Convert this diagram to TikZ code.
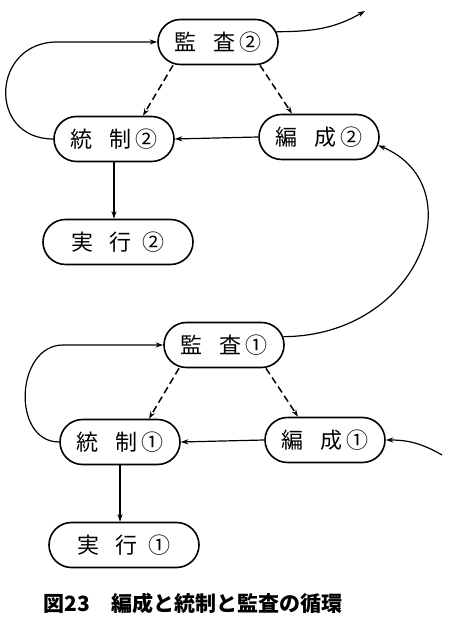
\documentclass[tikz,border=0pt]{standalone}
\usepackage{fontspec}
\setmainfont{Noto Sans CJK JP}
\usetikzlibrary{arrows.meta,shapes.misc}

\begin{document}
\begin{tikzpicture}[x=1pt,y=1pt,
    stage/.style={draw,line width=1.6pt,rounded rectangle,inner sep=0pt,
      minimum width=120pt,minimum height=45pt,font=\fontsize{22}{24}\selectfont},
    flow/.style={line width=1.2pt,-{Stealth[length=7.5pt,width=5pt]}},
    check/.style={flow,line width=1.5pt,dash pattern=on 7pt off 4pt}]
  \useasboundingbox (0,0) rectangle (465,636);
  \def\gap{\hspace{0.75em}}

  % two rounds of the cycle, the first one below
  \foreach \c/\dx/\dy/\m/\lx in {2/0/0/②/66,1/6/-303/①/48} {
    \begin{scope}[shift={(\dx,\dy)}]
      \node[stage] (kn\c) at (218,594) {監\gap 査\,\m};
      \node[stage] (tk\c) at (114,497) {統\gap 制\,\m};
      \node[stage] (hs\c) at (319,499) {編\gap 成\,\m};
      \node[stage,minimum width=150pt] (jk\c) at (118,394) {実\gap 行\hspace{0.5em}\m};
    \end{scope}
    \draw[check] ([xshift=-45pt]kn\c.south) -- ([xshift=29pt]tk\c.north);
    \draw[check] ([xshift=42pt]kn\c.south) -- ([xshift=-27pt]hs\c.north);
    \draw[flow] (hs\c.west) -- (tk\c.east);
    \draw[flow] (tk\c.south) -- (tk\c.south |- jk\c.north);
    \draw[flow] (tk\c.west) .. controls +(-\lx,0) and +(-\lx,0)
      .. ([xshift=-100pt]kn\c.west) -- (kn\c.west);
  }

  % links between the rounds
  \coordinate (out2) at (365,625);
  \coordinate (in1) at (442,181);
  \draw[flow] (kn2.10) to[out=0,in=210] (out2);
  \draw[flow] (kn1.8) .. controls (420,300) and (475,450) .. (hs2.-8);
  \draw[flow] (in1) to[out=150,in=0] (hs1.east);

  \node[anchor=base west,font=\fontsize{21}{24}\selectfont\bfseries] (cap)
    at (40,24) {図23\hspace{1em}編成と統制と監査の循環};
\end{tikzpicture}
\end{document}
